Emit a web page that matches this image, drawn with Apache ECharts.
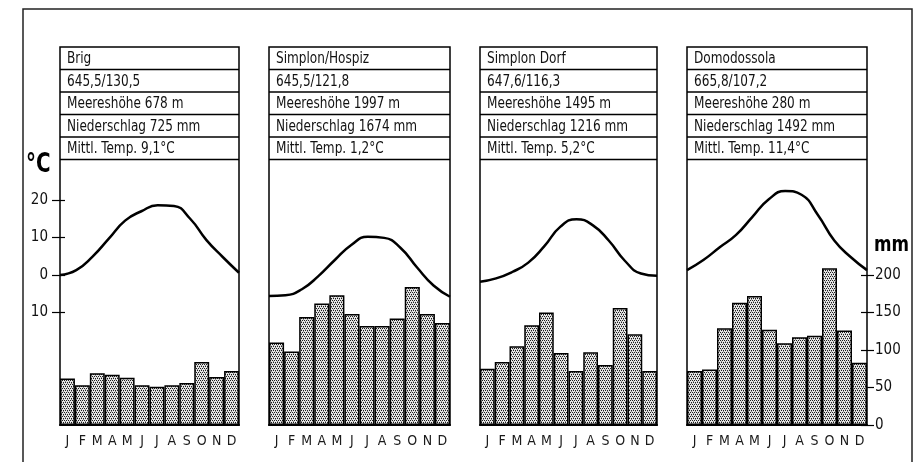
<!DOCTYPE html>
<html>
<head>
<meta charset="utf-8">
<script src="https://cdn.jsdelivr.net/npm/echarts@6/dist/echarts.min.js"></script>
<style>
  html, body { margin: 0; padding: 0; background: #fff; }
  #chart { width: 921px; height: 462px; }
</style>
</head>
<body>
<div id="chart"></div>
<script>
// Klimadiagramme entlang der Simplonroute
const months = ['J', 'F', 'M', 'A', 'M', 'J', 'J', 'A', 'S', 'O', 'N', 'D'];

const stations = ['Brig', 'Simplon/Hospiz', 'Simplon Dorf', 'Domodossola'];
const coordLines = ['645,5/130,5', '645,5/121,8', '647,6/116,3', '665,8/107,2'];
const altitudes = [678, 1997, 1495, 280];          // m ü. M.
const precipTotals = [725, 1674, 1216, 1492];      // mm / Jahr
const meanTemps = ['9,1', '1,2', '5,2', '11,4'];   // °C

// Monatsmittel der Temperatur (°C)
const tempBrig    = [0.0, 1.3, 4.9, 9.7, 14.5, 17.0, 18.6, 18.4, 15.0, 9.3, 4.8, 0.6];
const tempHospiz  = [-5.6, -5.4, -3.8, -0.3, 4.0, 8.0, 10.2, 9.9, 7.2, 2.0, -2.8, -5.8];
const tempDorf    = [-1.8, -0.9, 0.8, 3.3, 7.7, 12.9, 14.9, 13.3, 9.2, 3.8, 0.4, -0.2];
const tempDomo    = [1.3, 4.0, 7.4, 10.7, 15.5, 20.2, 22.4, 21.4, 16.0, 9.2, 4.8, 1.3];

// Monatssummen des Niederschlags (mm)
const precBrig    = [62, 53, 69, 67, 63, 53, 51, 53, 56, 84, 64, 72];
const precHospiz  = [110, 98, 144, 162, 173, 148, 132, 132, 142, 184, 148, 136];
const precDorf    = [75, 84, 105, 133, 150, 96, 72, 97, 80, 156, 121, 72];
const precDomo    = [72, 74, 129, 163, 172, 127, 109, 117, 119, 209, 126, 83];

const tempTicks = [-10, 0, 10, 20];
const precTicks = [0, 50, 100, 150, 200];

const temps = [tempBrig, tempHospiz, tempDorf, tempDomo];
const precs = [precBrig, precHospiz, precDorf, precDomo];

// Layout
const FONT = "'DejaVu Sans Condensed', 'Liberation Sans Narrow', sans-serif";
const panelLeft = [60, 269, 480, 687];
const panelWidth = [179, 181, 177, 180];
const headTop = 47;
const rowH = 22.5;
const plotTop = headTop + rowH * 5;
const plotBottom = 425;
const plotH = plotBottom - plotTop;
const MM_PER_PX = 1 / 0.75;
const mmMax = plotH * MM_PER_PX;
// 0 °C liegt auf 200 mm, 10 °C entsprechen 50 mm
const tMin = -40;
const tMax = (mmMax - 200) / 5;

// Rasterpunkte als Füllung der Niederschlagssäulen
function stipple() {
  const c = document.createElement('canvas');
  c.width = 4; c.height = 4;
  const g = c.getContext('2d');
  g.fillStyle = '#e6e6e6';
  g.fillRect(0, 0, 4, 4);
  g.fillStyle = '#1e1e1e';
  [[0, 0], [2, 0], [1, 2], [3, 2]].forEach(p => g.fillRect(p[0], p[1], 1, 1));
  g.fillStyle = '#8a8a8a';
  [[1, 1], [3, 3]].forEach(p => g.fillRect(p[0], p[1], 1, 1));
  return { image: c, repeat: 'repeat' };
}
const pattern = stipple();

const grids = [], xAxes = [], yAxes = [], series = [], graphics = [];

for (let g = 0; g < 4; g++) {
  const left = panelLeft[g], w = panelWidth[g];
  grids.push({ left: left, top: plotTop, width: w, height: plotH, outerBoundsMode: 'none' });

  // Monatsachse der Säulen
  xAxes.push({
    type: 'category', gridIndex: g, data: months, boundaryGap: true,
    axisLine: { show: true, lineStyle: { color: '#000', width: 2 } },
    axisTick: { show: false },
    axisLabel: { color: '#1a1a1a', fontFamily: FONT, fontSize: 14, margin: 9, interval: 0 }
  });
  // Achse der Temperaturkurve (Rand zu Rand)
  xAxes.push({
    type: 'category', gridIndex: g, data: months, boundaryGap: false, show: false
  });

  // Niederschlagsachse
  const showMM = g === 3;
  yAxes.push({
    type: 'value', gridIndex: g, min: 0, max: mmMax, position: 'right', offset: -6,
    splitLine: { show: false },
    axisLine: { show: false },
    axisTick: { show: showMM, length: 13, customValues: precTicks, lineStyle: { color: '#000', width: 1.2 } },
    axisLabel: { show: showMM, customValues: precTicks, margin: 14, color: '#111', fontFamily: FONT, fontSize: 15 }
  });
  // Temperaturachse
  const showT = g === 0;
  yAxes.push({
    type: 'value', gridIndex: g, min: tMin, max: tMax, position: 'left', offset: -5,
    splitLine: { show: false },
    axisLine: { show: false },
    axisTick: { show: showT, length: 13, customValues: tempTicks, lineStyle: { color: '#000', width: 1.2 } },
    axisLabel: {
      show: showT, customValues: tempTicks, margin: 17, color: '#111', fontFamily: FONT, fontSize: 15,
      formatter: v => String(Math.abs(v))
    }
  });

  series.push({
    type: 'bar', xAxisIndex: 2 * g, yAxisIndex: 2 * g, data: precs[g],
    barCategoryGap: 0, barGap: 0,
    itemStyle: { color: pattern, borderColor: '#000', borderWidth: 1.5 },
    silent: true
  });
  series.push({
    type: 'line', xAxisIndex: 2 * g + 1, yAxisIndex: 2 * g + 1, data: temps[g],
    smooth: 0.5, showSymbol: false, symbol: 'none',
    lineStyle: { color: '#000', width: 2.5 },
    z: 5, silent: true
  });

  // Kopfzeilen und Rahmen
  graphics.push({
    type: 'rect', shape: { x: left, y: headTop, width: w, height: plotBottom - headTop },
    style: { fill: null, stroke: '#000', lineWidth: 1.5 }, z: 10
  });
  const texts = [
    stations[g],
    coordLines[g],
    'Meereshöhe ' + altitudes[g] + ' m',
    'Niederschlag ' + precipTotals[g] + ' mm',
    'Mittl. Temp. ' + meanTemps[g] + '°C'
  ];
  for (let r = 0; r < 5; r++) {
    const yLine = headTop + rowH * (r + 1);
    graphics.push({
      type: 'line', shape: { x1: left, y1: yLine, x2: left + w, y2: yLine },
      style: { stroke: '#000', lineWidth: 1.5 }, z: 10
    });
    // schmale, hohe Schrift in den Kopfzeilen
    graphics.push({
      type: 'text', x: left + 7, y: headTop + rowH * (r + 0.5) + 1, scaleX: 0.84,
      style: { text: texts[r], fill: '#111', font: '16px ' + FONT, textVerticalAlign: 'middle', textAlign: 'left' },
      z: 10
    });
  }
}

// Außenrahmen
graphics.push({
  type: 'polyline', shape: { points: [[23, 462], [23, 9], [912, 9], [912, 462]] },
  style: { fill: null, stroke: '#222', lineWidth: 1.5 }, z: 10
});
// Einheiten
graphics.push({
  type: 'text', x: 26, y: 165, scaleX: 0.85,
  style: { text: '°C', fill: '#000', font: 'bold 26px ' + FONT, textVerticalAlign: 'middle' }, z: 10
});
graphics.push({
  type: 'text', x: 874, y: 245, scaleX: 0.85,
  style: { text: 'mm', fill: '#000', font: 'bold 22px ' + FONT, textVerticalAlign: 'middle' }, z: 10
});

const chart = echarts.init(document.getElementById('chart'), null, { renderer: 'canvas' });
chart.setOption({
  backgroundColor: '#fff',
  animation: false,
  grid: grids,
  xAxis: xAxes,
  yAxis: yAxes,
  series: series,
  graphic: graphics
});
</script>
</body>
</html>
